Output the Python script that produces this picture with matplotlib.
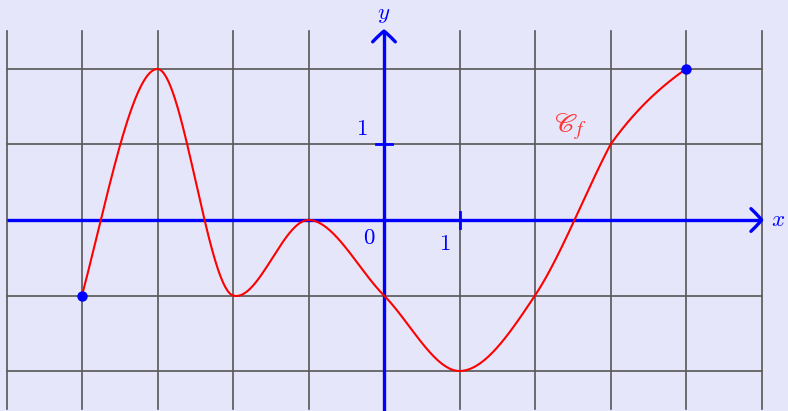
import numpy as np
import matplotlib
matplotlib.use("Agg")
import matplotlib.pyplot as plt
from matplotlib.path import Path
from matplotlib.patches import PathPatch

plt.rcParams["mathtext.fontset"] = "cm"
plt.rcParams["font.family"] = ["DejaVu Serif"]

# Curve knots: x, f(x), and the slope on the left / right of each knot
knot_x = [-4, -3, -2, -1, 0, 1, 2, 3, 4]
knot_y = [-1, 2, -1, 0, -1, -2, -1, 1, 2]
slope_left = [3.8, 0.0, -0.3, 0.0, -1.0, 0.0, 1.5, 1.9, 0.7]
slope_right = [3.8, 0.0, -0.3, 0.0, -1.0, 0.0, 1.5, 1.4, 0.7]

# Endpoints marked with a dot
end_x = [knot_x[0], knot_x[-1]]
end_y = [knot_y[0], knot_y[-1]]

# Axis ticks
x_ticks = [1]
y_ticks = [1]

BG = "#e6e6fa"
GRID = "#5c5c5c"
AXIS = "#0000ff"
CURVE = "#ff0000"

fig = plt.figure(figsize=(7.88, 4.11), dpi=100, facecolor=BG)
ax = fig.add_axes([0, 0, 1, 1])
ax.set_facecolor(BG)
ax.set_xlim(-384 / 75.5, (788 - 384) / 75.5)
ax.set_ylim(-(411 - 220) / 75.5, 220 / 75.5)
ax.axis("off")

# Grid
for gx in range(-5, 6):
    ax.plot([gx, gx], [-2.5, 2.5], color=GRID, lw=1.25, zorder=1)
for gy in range(-2, 3):
    ax.plot([-5, 5], [gy, gy], color=GRID, lw=1.25, zorder=1)

# Axes
ax.plot([-5, 4.99], [0, 0], color=AXIS, lw=2.4, zorder=3, solid_capstyle="butt")
ax.plot([0, 0], [-2.6, 2.49], color=AXIS, lw=2.4, zorder=3, solid_capstyle="butt")


def chevron(tip, direction):
    """Open curved arrow head in the TikZ style."""
    tx, ty = tip
    dx, dy = direction
    back, half = 0.14, 0.15
    px, py = -dy, dx
    for s in (1, -1):
        end = (tx - dx * back + s * px * half, ty - dy * back + s * py * half)
        ctrl = (tx - dx * back * 0.1 + s * px * half * 0.2,
                ty - dy * back * 0.1 + s * py * half * 0.2)
        path = Path([tip, ctrl, end], [Path.MOVETO, Path.CURVE3, Path.CURVE3])
        ax.add_patch(PathPatch(path, fill=False, edgecolor=AXIS, lw=2.4,
                               capstyle="round", zorder=3))


chevron((5.0, 0.0), (1, 0))
chevron((0.0, 2.5), (0, 1))

# Tick marks
for t in x_ticks:
    ax.plot([t, t], [-0.1, 0.1], color=AXIS, lw=2.0, zorder=3)
for t in y_ticks:
    ax.plot([-0.1, 0.1], [t, t], color=AXIS, lw=2.0, zorder=3)

# Curve: piecewise cubic Hermite through the knots
xs_all, ys_all = [], []
for i in range(len(knot_x) - 1):
    x0, x1 = knot_x[i], knot_x[i + 1]
    y0, y1 = knot_y[i], knot_y[i + 1]
    h = x1 - x0
    m0, m1 = slope_right[i], slope_left[i + 1]
    t = np.linspace(0, 1, 80)
    h00 = 2 * t**3 - 3 * t**2 + 1
    h10 = t**3 - 2 * t**2 + t
    h01 = -2 * t**3 + 3 * t**2
    h11 = t**3 - t**2
    xs_all.append(x0 + h * t)
    ys_all.append(h00 * y0 + h10 * h * m0 + h01 * y1 + h11 * h * m1)
ax.plot(np.concatenate(xs_all), np.concatenate(ys_all), color=CURVE, lw=1.5,
        zorder=4)

ax.plot(end_x, end_y, "o", color=AXIS, ms=6.5, zorder=5)

# Labels
fs = 16.5
ax.text(-0.3, 1.21, r"$1$", color=AXIS, fontsize=fs, ha="center", va="center")
ax.text(0.81, -0.32, r"$1$", color=AXIS, fontsize=fs, ha="center", va="center")
ax.text(-0.2, -0.24, r"$0$", color=AXIS, fontsize=fs, ha="center", va="center")
ax.text(5.22, 0.0, r"$x$", color=AXIS, fontsize=fs, ha="center", va="center")
ax.text(0.0, 2.73, r"$y$", color=AXIS, fontsize=fs, ha="center", va="center")
ax.text(2.47, 1.24, r"$\mathscr{C}_f$", color="#ff3333", fontsize=20,
        ha="center", va="center", math_fontfamily="stix")

fig.savefig("out.png", dpi=100, facecolor=BG)
